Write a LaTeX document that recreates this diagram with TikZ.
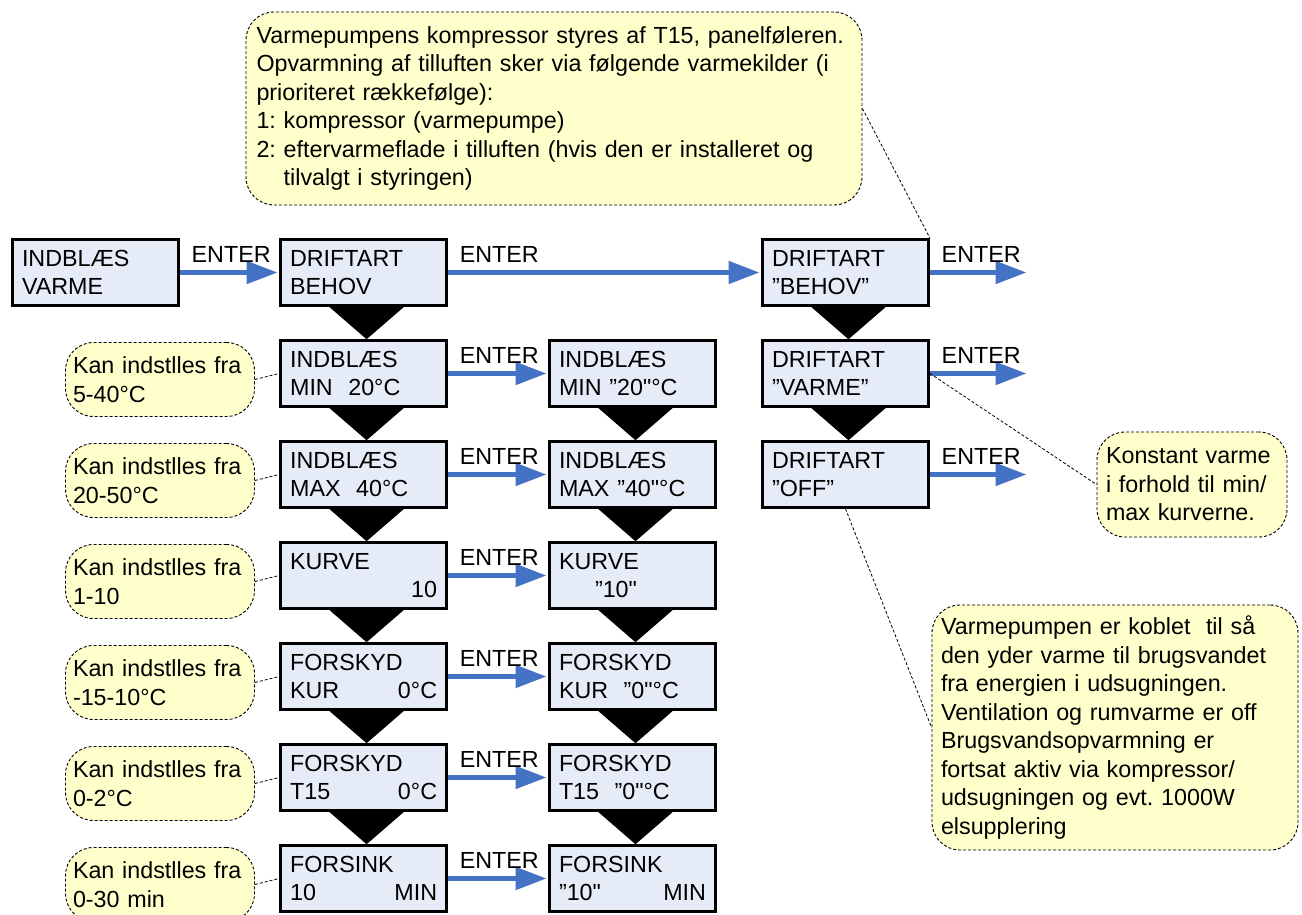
\documentclass[tikz,border=0pt]{standalone}
\usepackage{fontspec}
\newfontfamily\arial{Liberation Sans}
\usetikzlibrary{arrows.meta}
\definecolor{boxfill}{RGB}{229,235,247}
\definecolor{notefill}{RGB}{255,255,204}
\definecolor{arrowblue}{RGB}{68,114,196}

\begin{document}
\frenchspacing
\begin{tikzpicture}[x=1pt,y=-1pt,
  every node/.style={font=\arial\fontsize{23.3}{27.6}\selectfont},
  menubox/.style={draw=black, line width=3pt, fill=boxfill,
    minimum width=166pt, minimum height=65.5pt,
    inner xsep=9.5pt, inner ysep=0pt, text width=147pt, align=left},
  note/.style={draw=black, line width=0.9pt, dash pattern=on 3pt off 2pt,
    fill=notefill, rounded corners=28pt, align=left,
    inner xsep=10.5pt, inner ysep=0pt,
    font=\arial\fontsize{23.3}{28.5}\selectfont},
  sidenote/.style={note, minimum width=189pt, minimum height=74pt,
    text width=174pt, inner xsep=7.5pt},
  enter/.style={draw=arrowblue, line width=5pt, shorten >=1.5pt,
    -{Triangle[length=31pt,width=22pt]}},
  enterlbl/.style={anchor=base west, inner sep=0pt},
  link/.style={draw=black, line width=0.8pt, dash pattern=on 3pt off 2pt},
  chevron/.style={fill=black}
]
\useasboundingbox (0,0) rectangle (1302,915);

% explanatory notes
\node[note, minimum width=616pt, minimum height=193pt, text width=595pt] (tn) at (554,108.5)
  {Varmepumpens kompressor styres af T15, panelføleren.\\
   Opvarmning af tilluften sker via følgende varmekilder (i\\
   prioriteret rækkefølge):\\
   1: kompressor (varmepumpe)\\
   2: eftervarmeflade i tilluften (hvis den er installeret og\\
   \hphantom{2: }tilvalgt i styringen)};
\node[note, minimum width=190pt, minimum height=105pt, text width=172pt, inner xsep=9pt] (kn) at (1192,484.5)
  {Konstant varme\\i forhold til min/\\max kurverne.};
\node[note, minimum width=366pt, minimum height=245pt, text width=348pt, inner xsep=9pt] (vn) at (1115,727.5)
  {Varmepumpen er koblet\ \ til så\\
   den yder varme til brugsvandet\\
   fra energien i udsugningen.\\
   Ventilation og rumvarme er off\\
   Brugsvandsopvarmning er\\
   fortsat aktiv via kompressor/\\
   udsugningen og evt. 1000W\\
   elsupplering};

\node[sidenote] (n2) at (160,379.5) {Kan indstlles fra\\5-40°C};
\node[sidenote] (n3) at (160,480.5) {Kan indstlles fra\\20-50°C};
\node[sidenote] (n4) at (160,581.5) {Kan indstlles fra\\1-10};
\node[sidenote] (n5) at (160,682.5) {Kan indstlles fra\\-15-10°C};
\node[sidenote] (n6) at (160,783.5) {Kan indstlles fra\\0-2°C};
\node[sidenote] (n7) at (160,884.5) {Kan indstlles fra\\0-30 min};

% menu displays
\node[menubox] (b0) at (95.5,272.5) {INDBLÆS\\VARME};

\node[menubox] (a1) at (363.6,272.5) {DRIFTART\\BEHOV};
\node[menubox] (a2) at (363.6,373.5) {INDBLÆS\\MIN\ \ 20°C};
\node[menubox] (a3) at (363.6,474.5) {INDBLÆS\\MAX\ \ 40°C};
\node[menubox] (a4) at (363.6,575.5) {KURVE\\\hfill 10\hspace*{22pt}};
\node[menubox] (a5) at (363.6,676.5) {FORSKYD\\KUR\hfill 0°C\hspace*{7pt}};
\node[menubox] (a6) at (363.6,777.5) {FORSKYD\\T15\hfill 0°C\hspace*{7pt}};
\node[menubox] (a7) at (363.6,878.5) {FORSINK\\10\hfill MIN};

\node[menubox] (b2) at (632.5,373.5) {INDBLÆS\\MIN ”20"°C};
\node[menubox] (b3) at (632.5,474.5) {INDBLÆS\\MAX ”40"°C};
\node[menubox] (b4) at (632.5,575.5) {KURVE\\\hspace*{36pt}”10"};
\node[menubox] (b5) at (632.5,676.5) {FORSKYD\\KUR\ \ ”0"°C};
\node[menubox] (b6) at (632.5,777.5) {FORSKYD\\T15\ \ ”0"°C};
\node[menubox] (b7) at (632.5,878.5) {FORSINK\\”10"\hfill MIN\hspace*{3pt}};

\node[menubox] (c1) at (845.5,272.5) {DRIFTART\\”BEHOV”};
\node[menubox] (c2) at (845.5,373.5) {DRIFTART\\”VARME”};
\node[menubox] (c3) at (845.5,474.5) {DRIFTART\\”OFF”};

% downward steps between displays
\foreach \u/\v in {a1/a2,a2/a3,a3/a4,a4/a5,a5/a6,a6/a7,b2/b3,b3/b4,b4/b5,b5/b6,b6/b7,c1/c2,c2/c3}
  \fill[chevron] ([xshift=-34.5pt]\u.south) -- ([xshift=40.5pt]\u.south) -- ([xshift=3pt]\v.north) -- cycle;

% ENTER arrows
\coordinate (x1) at (1028,272.5);
\coordinate (x2) at (1028,373.5);
\coordinate (x3) at (1028,474.5);

\draw[enter] (b0.east) -- (a1.west);
\draw[enter] (a1.east) -- (c1.west);
\foreach \u/\v in {a2/b2,a3/b3,a4/b4,a5/b5,a6/b6,a7/b7}
  \draw[enter] (\u.east) -- (\v.west);
\draw[enter] (c1.east) -- (x1);
\draw[enter] (c2.east) -- (x2);
\draw[enter] (c3.east) -- (x3);

\node[enterlbl] (l0) at ([xshift=11.5pt,yshift=10.5pt]b0.east) {ENTER};
\foreach \u in {a1,a2,a3,a4,a5,a6,a7,c1,c2,c3}
  \node[enterlbl] (l-\u) at ([xshift=11.5pt,yshift=10.5pt]\u.east) {ENTER};

% note leaders
\foreach \n/\m in {n2/a2,n3/a3,n4/a4,n5/a5,n6/a6,n7/a7}
  \draw[link] (\n.east) -- (\m.west);
\draw[link] (tn.east) -- (c1.north east);
\draw[link] (c2.east) -- (kn.west);
\draw[link] (c3.south) -- (vn.west);
\end{tikzpicture}
\end{document}
